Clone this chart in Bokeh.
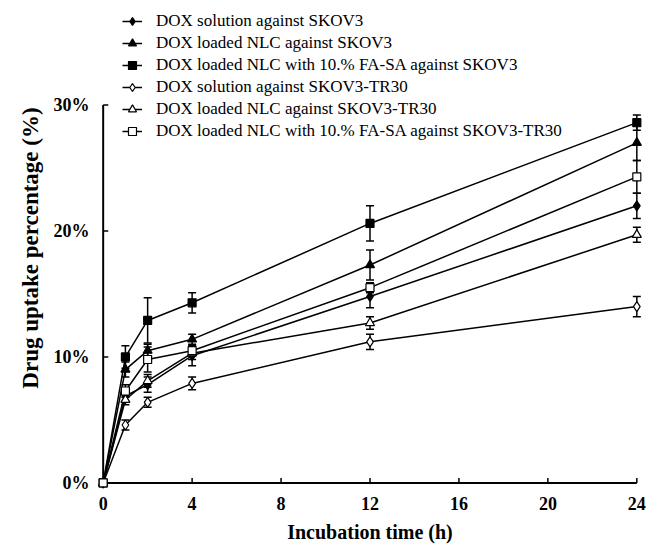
from bokeh.plotting import figure
from bokeh.models import (ColumnDataSource, Whisker, TeeHead, Legend, LegendItem,
                          FixedTicker)
from bokeh.embed import file_html
from bokeh.resources import INLINE

# ---- data ----
hours = [0, 1, 2, 4, 12, 24]
series_names = [
    "DOX solution against SKOV3",
    "DOX loaded NLC against SKOV3",
    "DOX loaded NLC with 10.% FA-SA against SKOV3",
    "DOX solution against SKOV3-TR30",
    "DOX loaded NLC against SKOV3-TR30",
    "DOX loaded NLC with 10.% FA-SA against SKOV3-TR30",
]
sol_skov3 = [0, 6.9, 7.8, 10.1, 14.8, 22.0]
sol_skov3_err = [0, 0.5, 0.6, 0.8, 0.9, 1.0]
nlc_skov3 = [0, 9.0, 10.5, 11.4, 17.3, 27.0]
nlc_skov3_err = [0, 0.6, 0.5, 0.4, 1.2, 1.4]
fasa_skov3 = [0, 10.0, 12.9, 14.3, 20.6, 28.6]
fasa_skov3_err = [0, 0.9, 1.8, 0.8, 1.4, 0.6]
sol_tr30 = [0, 4.6, 6.4, 7.9, 11.2, 14.0]
sol_tr30_err = [0, 0.4, 0.4, 0.5, 0.6, 0.8]
nlc_tr30 = [0, 6.6, 8.1, 10.3, 12.7, 19.7]
nlc_tr30_err = [0, 0.4, 0.5, 0.5, 0.5, 0.6]
fasa_tr30 = [0, 7.3, 9.8, 10.5, 15.5, 24.3]
fasa_tr30_err = [0, 0.5, 1.0, 0.4, 0.4, 1.3]

x_ticks = [0, 4, 8, 12, 16, 20, 24]
y_ticks = [0, 10, 20, 30]
y_tick_labels = ["0%", "10%", "20%", "30%"]

values = [sol_skov3, nlc_skov3, fasa_skov3, sol_tr30, nlc_tr30, fasa_tr30]
errors = [sol_skov3_err, nlc_skov3_err, fasa_skov3_err, sol_tr30_err, nlc_tr30_err, fasa_tr30_err]
markers = ["diamond", "triangle", "square", "diamond", "triangle", "square"]
fills = ["black", "black", "black", "white", "white", "white"]
sizes = [10, 9, 8, 10, 9, 8]

FONT = "Liberation Serif"

p = figure(width=647, height=551, x_range=(-0.3, 24.3), y_range=(-0.6, 37.9),
           output_backend="svg", toolbar_location=None,
           min_border_left=96, min_border_right=4, min_border_top=5, min_border_bottom=61)
p.outline_line_color = None
p.xgrid.visible = False
p.ygrid.visible = False

for ax in (p.xaxis[0], p.yaxis[0]):
    ax.axis_line_color = None
    ax.major_tick_line_color = None
    ax.minor_tick_line_color = None
    ax.major_tick_in = 0
    ax.major_tick_out = 0
    ax.major_label_text_font = FONT
    ax.major_label_text_font_style = "bold"
    ax.major_label_text_font_size = "18px"
    ax.major_label_text_color = "black"
    ax.axis_label_text_font = FONT
    ax.axis_label_text_font_style = "bold"
    ax.axis_label_text_color = "black"

p.xaxis.ticker = FixedTicker(ticks=x_ticks)
p.yaxis.ticker = FixedTicker(ticks=y_ticks)
p.yaxis.major_label_overrides = {t: l for t, l in zip(y_ticks, y_tick_labels)}
p.xaxis.major_label_standoff = 6
p.yaxis.major_label_standoff = 7

p.xaxis.axis_label = "Incubation time (h)"
p.xaxis.axis_label_text_font_size = "20px"
p.xaxis.axis_label_standoff = 8
p.yaxis.axis_label = "Drug uptake percentage (%)"
p.yaxis.axis_label_text_font_size = "23px"
p.yaxis.axis_label_standoff = 8

# axes drawn at the data origin
p.segment(x0=[0, 0], y0=[0, 0], x1=[x_ticks[-1], 0], y1=[0, y_ticks[-1]],
          line_color="black", line_width=2)
p.segment(x0=x_ticks[1:], y0=[0] * (len(x_ticks) - 1), x1=x_ticks[1:], y1=[0.4] * (len(x_ticks) - 1),
          line_color="black", line_width=1.5)
p.segment(x0=[0] * (len(y_ticks) - 1), y0=y_ticks[1:], x1=[0.23] * (len(y_ticks) - 1), y1=y_ticks[1:],
          line_color="black", line_width=1.5)

items = []
line_rs = []
for i in range(6):
    src = ColumnDataSource(dict(x=hours, y=values[i],
                                lo=[v - e for v, e in zip(values[i], errors[i])],
                                hi=[v + e for v, e in zip(values[i], errors[i])]))
    lr = p.line("x", "y", source=src, line_color="black", line_width=1.5)
    w = Whisker(source=src, base="x", lower="lo", upper="hi", dimension="height",
                line_color="black", line_width=1.5,
                upper_head=TeeHead(size=8, line_color="black", line_width=1.5),
                lower_head=TeeHead(size=8, line_color="black", line_width=1.5))
    p.add_layout(w)
    line_rs.append((lr, src))

for i in range(6):
    lr, src = line_rs[i]
    sr = p.scatter("x", "y", source=src, marker=markers[i], size=sizes[i],
                   fill_color=fills[i], line_color="black", line_width=1.2)
    items.append(LegendItem(label=series_names[i], renderers=[lr, sr]))

legend = Legend(items=items, location=(26, 348), orientation="vertical",
                label_text_font=FONT, label_text_font_size="17px", label_text_color="black",
                glyph_width=20, glyph_height=22, label_height=22, spacing=0,
                label_standoff=14, padding=0, margin=0,
                border_line_color=None, background_fill_alpha=0)
p.add_layout(legend)

open("out.html", "w").write(file_html(p, INLINE))
